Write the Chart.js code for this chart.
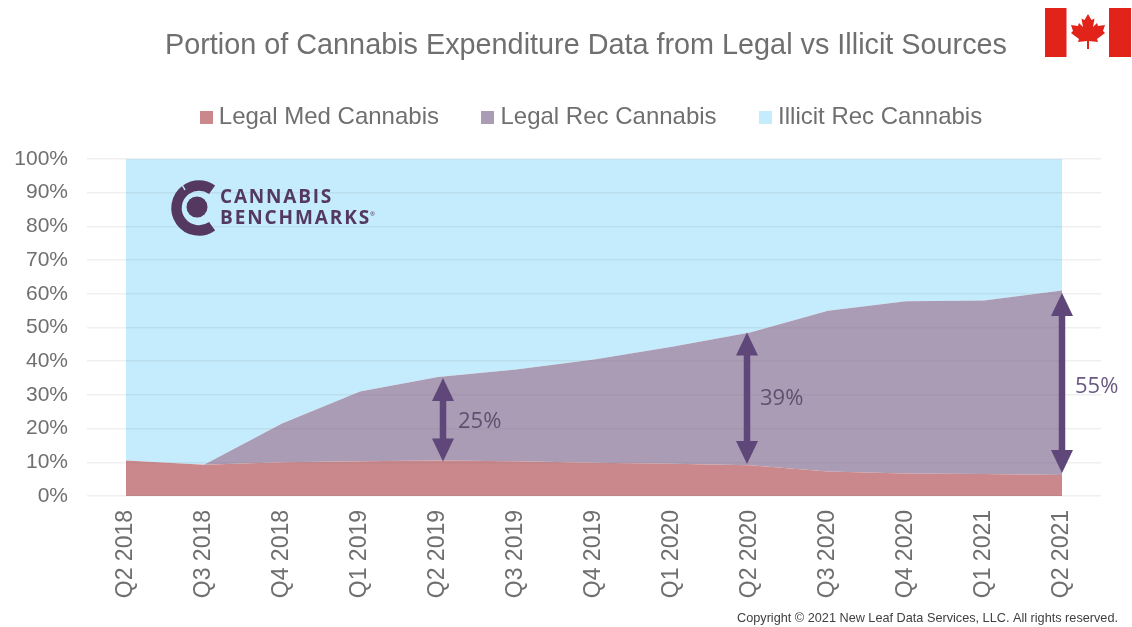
<!DOCTYPE html>
<html><head><meta charset="utf-8">
<style>html,body{margin:0;padding:0;background:#fff;overflow:hidden}#w{width:1132px;height:627px;position:relative}canvas{display:block}</style>
<script src="https://cdn.jsdelivr.net/npm/chart.js@4"></script>
</head><body><div id="w"><canvas id="c" width="1132" height="627"></canvas></div>
<script>
const categories=['Q2 2018','Q3 2018','Q4 2018','Q1 2019','Q2 2019','Q3 2019','Q4 2019','Q1 2020','Q2 2020','Q3 2020','Q4 2020','Q1 2021','Q2 2021'];
const legalMed=[10.5,9.3,10,10.3,10.5,10.3,9.9,9.6,9.1,7.3,6.7,6.5,6.2];
const legalRec=[0,0,11.5,20.7,24.8,27.2,30.6,34.7,39.4,47.7,51.1,51.5,54.8];
const illicitRec=[89.5,90.7,78.5,69,64.7,62.5,59.5,55.7,51.5,45,42.2,42,39];
const arrowCategories=['Q2 2019','Q2 2020','Q2 2021'];
const arrowLabels=['25%','39%','55%'];
const arrowLow=[10.2,9.5,6.8];
const arrowHigh=[35,48.5,60.2];
const yTicks=[0,10,20,30,40,50,60,70,80,90,100];
const TXT='#6f6f6f',PURPLE='#5f4779',LOGO='#54385f';
function swatch(col){const s=document.createElement('canvas');s.width=13;s.height=13;const g=s.getContext('2d');g.fillStyle=col;g.fillRect(0,0,13,13);return s;}
const legendGap={id:'legendGap',beforeLayout(ch){const l=ch.legend;if(l&&!l._gap){l._gap=true;const f=l.fit;l.fit=function(){f.call(this);this.height=102.2;};}}};
const decor={id:'decor',afterDraw(ch){
  const {ctx,scales:{x,y}}=ch;ctx.save();
  arrowCategories.forEach((cat,n)=>{
    const i=categories.indexOf(cat),px=x.getPixelForValue(i)+[5,-3,0][n];
    const y0=y.getPixelForValue(arrowLow[n]),y1=y.getPixelForValue(arrowHigh[n]);
    ctx.strokeStyle=PURPLE;ctx.fillStyle=PURPLE;ctx.lineWidth=6.5;
    ctx.beginPath();ctx.moveTo(px,y0-20);ctx.lineTo(px,y1+20);ctx.stroke();
    [[y1,1],[y0,-1]].forEach(([t,d])=>{ctx.beginPath();ctx.moveTo(px,t);ctx.lineTo(px-11,t+d*23);ctx.lineTo(px+11,t+d*23);ctx.closePath();ctx.fill();});
    ctx.font='22px "Open Sans"';ctx.textAlign='left';ctx.textBaseline='middle';ctx.fillStyle=n==2?'#6a5a83':'#5f4f70';
    ctx.fillText(arrowLabels[n],px+[15,13,13][n],[422,399,387][n]);
  });
  // logo
  ctx.strokeStyle=LOGO;ctx.fillStyle=LOGO;
  ctx.beginPath();ctx.arc(197,207,10.5,0,7);ctx.fill();
  ctx.lineWidth=10.5;ctx.beginPath();ctx.arc(199,208,22.5,0.95,-0.95+Math.PI*2,false);ctx.stroke();
  ctx.strokeStyle='#c5ecfc';ctx.lineWidth=1.5;ctx.beginPath();ctx.moveTo(185,190);ctx.lineTo(180,181);ctx.stroke();
  ctx.font='bold 19px "Open Sans"';ctx.textAlign='left';ctx.textBaseline='middle';
  ctx.letterSpacing='1.8px';ctx.fillText('CANNABIS',220,198);
  ctx.letterSpacing='1.9px';ctx.fillText('BENCHMARKS',220,218.5);
  ctx.letterSpacing='0px';
  ctx.font='6px "Open Sans"';ctx.fillText('®',370,214);
  // flag
  ctx.fillStyle='#e2231a';ctx.fillRect(1045,8,21.5,49);ctx.fillRect(1109,8,22,49);
  const cx=1088,cy=31,L=[[0,-17],[3.5,-11],[6.5,-12.5],[5,-4],[9,-8],[10,-5],[17,-6],[15,0],[17,2],[9,8],[10,11],[1,10],[1,18],[-1,18],[-1,10],[-10,11],[-9,8],[-17,2],[-15,0],[-17,-6],[-10,-5],[-9,-8],[-5,-4],[-6.5,-12.5],[-3.5,-11]];
  ctx.beginPath();L.forEach(([a,b],i)=>i?ctx.lineTo(cx+a,cy+b):ctx.moveTo(cx+a,cy+b));ctx.closePath();ctx.fill();
  ctx.fillStyle='#404040';ctx.font='12.7px "Liberation Sans"';ctx.textAlign='right';ctx.textBaseline='middle';
  ctx.fillText('Copyright © 2021 New Leaf Data Services, LLC. All rights reserved.',1118,618);
  ctx.restore();
}};
new Chart(document.getElementById('c'),{
  type:'line',
  data:{labels:categories,datasets:[
    {label:'Legal Med Cannabis',data:legalMed,backgroundColor:'#cb888c',borderWidth:0,pointRadius:0,fill:'origin',tension:0,pointStyle:swatch('#cb888c')},
    {label:'Legal Rec Cannabis',data:legalRec,backgroundColor:'#ab9cb5',borderWidth:0,pointRadius:0,fill:'-1',tension:0,pointStyle:swatch('#ab9cb5')},
    {label:'Illicit Rec Cannabis',data:illicitRec,backgroundColor:'#c5ecfc',borderWidth:0,pointRadius:0,fill:'-1',tension:0,pointStyle:swatch('#c5ecfc')}
  ]},
  options:{responsive:false,animation:false,devicePixelRatio:1,
    layout:{padding:{left:0,right:31,top:0,bottom:0}},
    scales:{
      x:{offset:true,stacked:true,grid:{display:false},border:{display:false},
        afterFit(s){s.height=131;},
        ticks:{color:TXT,font:{family:'Liberation Sans',size:23},maxRotation:90,minRotation:90,autoSkip:false,padding:6}},
      y:{stacked:true,min:0,max:100,
        afterFit(s){s.width=87;},
        afterBuildTicks(s){s.ticks=yTicks.map(v=>({value:v}));},
        border:{display:false},
        grid:{color:'rgba(110,110,110,0.11)',lineWidth:1.5,z:1,drawTicks:false},
        ticks:{color:TXT,font:{family:'Liberation Sans',size:21},padding:19,callback:v=>v+'%'}}
    },
    plugins:{
      title:{display:true,fullSize:false,text:'Portion of Cannabis Expenditure Data from Legal vs Illicit Sources\u00a0\u00a0',color:TXT,font:{family:'Liberation Sans',size:28.8,weight:'normal',lineHeight:0.7},padding:{top:35.8,bottom:0.8}},
      legend:{display:true,fullSize:false,position:'top',labels:{usePointStyle:true,boxWidth:1,boxHeight:1,padding:48.5,color:TXT,font:{family:'Liberation Sans',size:24}}},
      tooltip:{enabled:false}
    }
  },
  plugins:[decor,legendGap]
});
</script></body></html>
